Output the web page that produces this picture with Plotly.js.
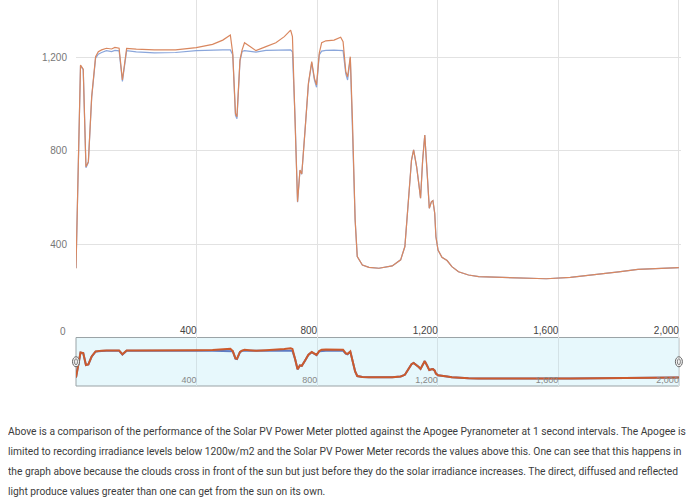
<!DOCTYPE html>
<html>
<head>
<meta charset="utf-8">
<script src="https://cdn.plot.ly/plotly-3.0.1.min.js"></script>
<style>
  html, body { margin: 0; padding: 0; background: #fff; }
  #chart { width: 700px; height: 400px; }
  #caption { position: absolute; left: 8px; top: 422px; font-family: Roboto, "Noto Sans", sans-serif; font-size: 11px; color: #3c3c3c; }
  #caption div { white-space: nowrap; line-height: 20px; transform-origin: left center; }
</style>
</head>
<body>
<div id="chart"></div>
<div id="caption"></div>
<script>
// time in seconds (1 s logging interval, key points)
const seconds = [0, 15, 24, 33, 41, 52, 65, 74, 85, 101, 118, 129, 143, 154, 168, 200, 260, 330, 399, 453,
  487, 512, 520, 529, 534, 544, 551, 559, 575, 597, 630, 663, 691, 712, 718, 727, 735, 743, 749, 760,
  771, 782, 791, 798, 807, 815, 829, 856, 878, 886, 895, 901, 910, 917, 926, 933, 950, 972, 1005, 1049,
  1077, 1091, 1102, 1113, 1120, 1130, 1137, 1143, 1150, 1157, 1165, 1172, 1179, 1184, 1190, 1194, 1201, 1214, 1231, 1247,
  1269, 1302, 1336, 1400, 1480, 1560, 1640, 1732, 1800, 1864, 1930, 2000];

// Solar PV Power Meter (W/m2)
const pvMeter = [297, 1168, 1150, 732, 754, 1032, 1204, 1225, 1233, 1240, 1237, 1244, 1240, 1104, 1240, 1236, 1233, 1233, 1243, 1257,
  1275, 1297, 1218, 961, 947, 1190, 1233, 1264, 1250, 1230, 1247, 1264, 1290, 1318, 1290, 933, 582, 718, 701, 890,
  1090, 1183, 1111, 1083, 1219, 1264, 1272, 1275, 1287, 1268, 1140, 1118, 1204, 933, 504, 347, 311, 301, 297, 307,
  333, 390, 576, 761, 804, 732, 661, 597, 761, 868, 704, 554, 582, 587, 533, 432, 375, 344, 330, 304,
  282, 268, 261, 258, 253, 252, 258, 270, 281, 292, 297, 300];

// Apogee Pyranometer (W/m2), tops out just above 1200
const apogee = [297, 1165, 1148, 728, 750, 1028, 1198, 1215, 1222, 1230, 1226, 1231, 1229, 1098, 1230, 1225, 1220, 1222, 1230, 1233,
  1233, 1233, 1212, 952, 938, 1185, 1226, 1230, 1228, 1224, 1231, 1233, 1233, 1233, 1225, 930, 580, 716, 700, 888,
  1086, 1178, 1104, 1073, 1212, 1228, 1231, 1232, 1232, 1230, 1130, 1104, 1198, 930, 504, 347, 311, 301, 297, 307,
  333, 390, 576, 761, 804, 732, 661, 597, 761, 868, 704, 554, 582, 587, 533, 432, 375, 344, 330, 304,
  282, 268, 261, 258, 253, 252, 258, 270, 281, 292, 297, 300];

const xTicks = [400, 800, 1200, 1600, 2000];
const yTicks = [400, 800, 1200];

const captionLines = [
  'Above is a comparison of the performance of the Solar PV Power Meter plotted against the Apogee Pyranometer at 1 second intervals. The Apogee is',
  'limited to recording irradiance levels below 1200w/m2 and the Solar PV Power Meter records the values above this. One can see that this happens in',
  'the graph above because the clouds cross in front of the sun but just before they do the solar irradiance increases. The direct, diffused and reflected',
  'light produce values greater than one can get from the sun on its own.'
];

const blueMain = '#8aa6db', orangeMain = '#d9875f';
const blueSmall = '#5d7cc4', orangeSmall = '#cc5a2c';
const sliderTop = 0.1256;
const xMax = 2007;
const sliderRight = 2000 / xMax;   // slider box ends at the last sample

const traces = [
  { x: seconds, y: apogee, type: 'scatter', mode: 'lines', name: 'Apogee Pyranometer',
    line: { color: blueMain, width: 1.2 }, xaxis: 'x', yaxis: 'y' },
  { x: seconds, y: pvMeter, type: 'scatter', mode: 'lines', name: 'Solar PV Power Meter',
    line: { color: orangeMain, width: 1.2 }, xaxis: 'x', yaxis: 'y' },
  { x: seconds, y: apogee, type: 'scatter', mode: 'lines', name: 'Apogee Pyranometer',
    line: { color: blueSmall, width: 2 }, xaxis: 'x2', yaxis: 'y2' },
  { x: seconds, y: pvMeter, type: 'scatter', mode: 'lines', name: 'Solar PV Power Meter',
    line: { color: orangeSmall, width: 2 }, xaxis: 'x2', yaxis: 'y2' }
];

// range filter grips, drawn as small ovals on both ends of the slider
function grip(xp) {
  const base = { type: 'circle', xref: 'paper', yref: 'paper', xsizemode: 'pixel', ysizemode: 'pixel',
    xanchor: xp, yanchor: sliderTop / 2 };
  return [
    Object.assign({}, base, { x0: -3.5, x1: 3.5, y0: -5, y1: 5, fillcolor: '#f2f2f2', line: { color: '#666', width: 1 } }),
    Object.assign({}, base, { x0: -1.5, x1: 1.5, y0: -3, y1: 3, fillcolor: 'rgba(0,0,0,0)', line: { color: '#666', width: 0.8 } })
  ];
}

const layout = {
  width: 700, height: 400,
  margin: { l: 76, r: 19, t: 0, b: 14 },
  showlegend: false,
  paper_bgcolor: '#fff', plot_bgcolor: 'rgba(0,0,0,0)',
  font: { family: 'Arial, "Liberation Sans", sans-serif', size: 10, color: '#777' },
  xaxis: { anchor: 'y', domain: [0, 1], range: [0, xMax], tickvals: xTicks, tickformat: ',',
    ticklabelposition: 'inside left', ticklabelstandoff: -4, showgrid: true, gridcolor: '#e2e2e2',
    zeroline: false, showline: false, ticks: '', fixedrange: true },
  yaxis: { domain: [sliderTop, 1], range: [0, 1447], tickvals: yTicks, tickformat: ',',
    showgrid: true, gridcolor: '#e2e2e2', zeroline: false, ticks: '', ticklabelstandoff: 8, fixedrange: true },
  xaxis2: { anchor: 'y2', domain: [0, 1], range: [0, xMax], tickvals: xTicks, tickformat: ',',
    ticklabelposition: 'inside left', ticklabelstandoff: -5, showgrid: true, gridcolor: '#d3e2e6',
    zeroline: false, showline: false, ticks: '', tickfont: { size: 9, color: '#888' }, fixedrange: true },
  yaxis2: { domain: [0, sliderTop], range: [0, 1690], showgrid: false, showticklabels: false,
    zeroline: false, ticks: '', fixedrange: true },
  shapes: [
    { type: 'rect', xref: 'paper', yref: 'paper', x0: 0, x1: sliderRight, y0: 0, y1: sliderTop,
      fillcolor: '#e7f8fc', line: { color: '#9aa3a6', width: 1 }, layer: 'below' }
  ].concat(grip(0), grip(sliderRight)),
  annotations: [
    { xref: 'paper', x: 0, xanchor: 'right', xshift: -8, yref: 'y', y: 0, yshift: 6,
      text: '0', showarrow: false, font: { size: 10, color: '#777' } }
  ]
};

Plotly.newPlot('chart', traces, layout, { displayModeBar: false, staticPlot: true });

// caption below the chart, squeezed to the width of the original paragraph
const cap = document.getElementById('caption');
captionLines.forEach(t => { const d = document.createElement('div'); d.textContent = t; cap.appendChild(d); });
const rows = cap.querySelectorAll('div');
const natural = rows[0].scrollWidth;
const k = 678 / natural;
rows.forEach(r => { r.style.transform = 'scaleX(' + k + ')'; });
</script>
</body>
</html>
